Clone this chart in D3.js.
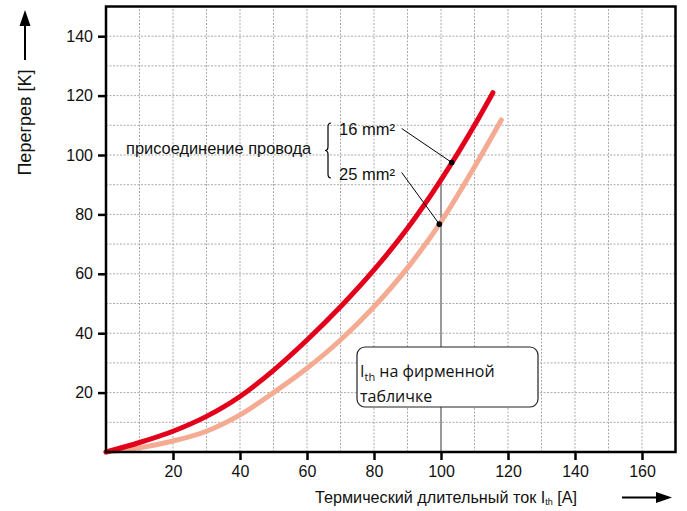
<!DOCTYPE html>
<html><head><meta charset="utf-8">
<script src="https://cdn.jsdelivr.net/npm/d3@7"></script>
<style>body{margin:0;background:#fff}svg{display:block}</style>
</head><body>
<script>
// Data
const xs16 = [0,10,20,30,40,50,60,70,80,90,100,110,115.5];
const ys16 = [0,3.2,7,12,18.7,27.5,37.7,48.9,61.3,75.3,91.6,110,121];
const xs25 = [0,10,20,30,40,50,60,70,80,90,100,110,118];
const ys25 = [0,1.4,3.7,7,12.5,20,28.2,37.7,48.9,62,77.5,96,111.8];
const xTicks = [20,40,60,80,100,120,140,160];
const yTicks = [20,40,60,80,100,120,140];
const gridX = d3.range(10,170,10);
const gridY = d3.range(10,150,10);
const markers = [{x:103.2, s:"16"}, {x:99.5, s:"25"}];
const ratedCurrent = 100;

const W=687,H=511;
const svg=d3.select("body").append("svg").attr("width",W).attr("height",H);
const x=d3.scaleLinear().domain([0,170]).range([106,675.5]);
const y=d3.scaleLinear().domain([0,150]).range([452,6.5]);
const font="'Liberation Sans', Arial, sans-serif";

// grid
const g=svg.append("g");
g.selectAll(".gx").data(gridX).join("line").attr("x1",d=>x(d)).attr("x2",d=>x(d))
 .attr("y1",y(0)).attr("y2",y(150)).attr("stroke","#aaaaaa").attr("stroke-width",1).attr("stroke-dasharray","2,1.5");
g.selectAll(".gy").data(gridY).join("line").attr("y1",d=>y(d)).attr("y2",d=>y(d))
 .attr("x1",x(0)).attr("x2",x(170)).attr("stroke","#aaaaaa").attr("stroke-width",1).attr("stroke-dasharray","2,1.5");

function interp(xs,ys,v){for(let i=1;i<xs.length;i++){if(v<=xs[i]){const t=(v-xs[i-1])/(xs[i]-xs[i-1]);return ys[i-1]+t*(ys[i]-ys[i-1]);}}return ys[ys.length-1];}

// vertical rated current line
svg.append("line").attr("x1",x(ratedCurrent)).attr("x2",x(ratedCurrent))
 .attr("y1",y(interp(xs16,ys16,ratedCurrent))).attr("y2",y(0))
 .attr("stroke","#9a9a9a").attr("stroke-width",2);

// curves
const line=d3.line().x(d=>x(d[0])).y(d=>y(d[1])).curve(d3.curveMonotoneX);
svg.append("path").datum(xs25.map((v,i)=>[v,ys25[i]])).attr("d",line)
 .attr("fill","none").attr("stroke","#f4ab92").attr("stroke-width",5).attr("stroke-linecap","round");
svg.append("path").datum(xs16.map((v,i)=>[v,ys16[i]])).attr("d",line)
 .attr("fill","none").attr("stroke","#e3001b").attr("stroke-width",5).attr("stroke-linecap","round");

// axes
const xAxis=d3.axisBottom(x).tickValues(xTicks).tickSize(8).tickPadding(6);
const yAxis=d3.axisLeft(y).tickValues(yTicks).tickSize(8).tickPadding(5);
const gx=svg.append("g").attr("transform",`translate(0,${y(0)})`).call(xAxis);
const gy=svg.append("g").attr("transform",`translate(${x(0)},0)`).call(yAxis);
[gx,gy].forEach(a=>{a.select(".domain").remove();
 a.selectAll(".tick line").attr("stroke","#000").attr("stroke-width",2.5);
 a.selectAll(".tick text").attr("font-family",font).attr("font-size",16).attr("fill","#111");});
svg.append("rect").attr("x",x(0)).attr("y",y(150)).attr("width",x(170)-x(0)).attr("height",y(0)-y(150))
 .attr("fill","none").attr("stroke","#000").attr("stroke-width",2.5);

// markers and leaders
const lab = {"16":[401.7,128.5],"25":[401.7,172.5]};
markers.forEach(m=>{
 const ys = m.s==="16"?interp(xs16,ys16,m.x):interp(xs25,ys25,m.x);
 svg.append("line").attr("x1",lab[m.s][0]).attr("y1",lab[m.s][1]).attr("x2",x(m.x)).attr("y2",y(ys))
  .attr("stroke","#000").attr("stroke-width",1);
 svg.append("circle").attr("cx",x(m.x)).attr("cy",y(ys)).attr("r",2.8).attr("fill","#000");
});

// labels
svg.append("text").attr("x",126).attr("y",153.5).attr("font-family",font).attr("font-size",16.4).attr("fill","#111").text("присоединение провода");
svg.append("text").attr("x",339).attr("y",135).attr("font-family",font).attr("font-size",16.5).attr("fill","#111").text("16 mm²");
svg.append("text").attr("x",339).attr("y",179.5).attr("font-family",font).attr("font-size",16.5).attr("fill","#111").text("25 mm²");
const bx=328, by1=123, by2=178, bm=(by1+by2)/2;
svg.append("path").attr("d",`M${bx+3},${by1} Q${bx},${by1} ${bx},${by1+4} L${bx},${bm-4} Q${bx},${bm} ${bx-3},${bm} Q${bx},${bm} ${bx},${bm+4} L${bx},${by2-4} Q${bx},${by2} ${bx+3},${by2}`)
 .attr("fill","none").attr("stroke","#000").attr("stroke-width",1.2);

// box
svg.append("rect").attr("x",357).attr("y",347).attr("width",181).attr("height",60).attr("rx",8)
 .attr("fill","#fff").attr("stroke","#222").attr("stroke-width",1.2);
const bt=svg.append("text").attr("x",360).attr("y",377).attr("font-family","'Open Sans', sans-serif").attr("font-size",16).attr("fill","#111");
bt.append("tspan").attr("fill","#111").text("I");
bt.append("tspan").attr("fill","#111").attr("font-size",11).attr("dy",4).text("th");
bt.append("tspan").attr("fill","#111").attr("dy",-4).text(" на фирменной");
svg.append("text").attr("x",360).attr("y",402).attr("font-family","'Open Sans', sans-serif").attr("font-size",16).attr("fill","#111").text("табличке");

// x axis title
const xt=svg.append("text").attr("x",315).attr("y",503).attr("font-family",font).attr("font-size",16.2).attr("fill","#111");
xt.append("tspan").text("Термический длительный ток I");
xt.append("tspan").attr("font-size",9).attr("dy",2).text("th");
xt.append("tspan").attr("dy",-2).text(" [A]");
svg.append("line").attr("x1",622).attr("x2",658).attr("y1",497.5).attr("y2",497.5).attr("stroke","#000").attr("stroke-width",2);
svg.append("path").attr("d","M672,497.5 L656,492 L656,503 Z").attr("fill","#000");

// y axis title
svg.append("text").attr("transform","translate(31,122.5) rotate(-90)").attr("text-anchor","middle")
 .attr("font-family",font).attr("font-size",18).attr("fill","#111").text("Перегрев [K]");
svg.append("line").attr("x1",25).attr("x2",25).attr("y1",60).attr("y2",24).attr("stroke","#000").attr("stroke-width",2);
svg.append("path").attr("d","M25,10 L19.5,26 L30.5,26 Z").attr("fill","#000");
</script>
</body></html>
